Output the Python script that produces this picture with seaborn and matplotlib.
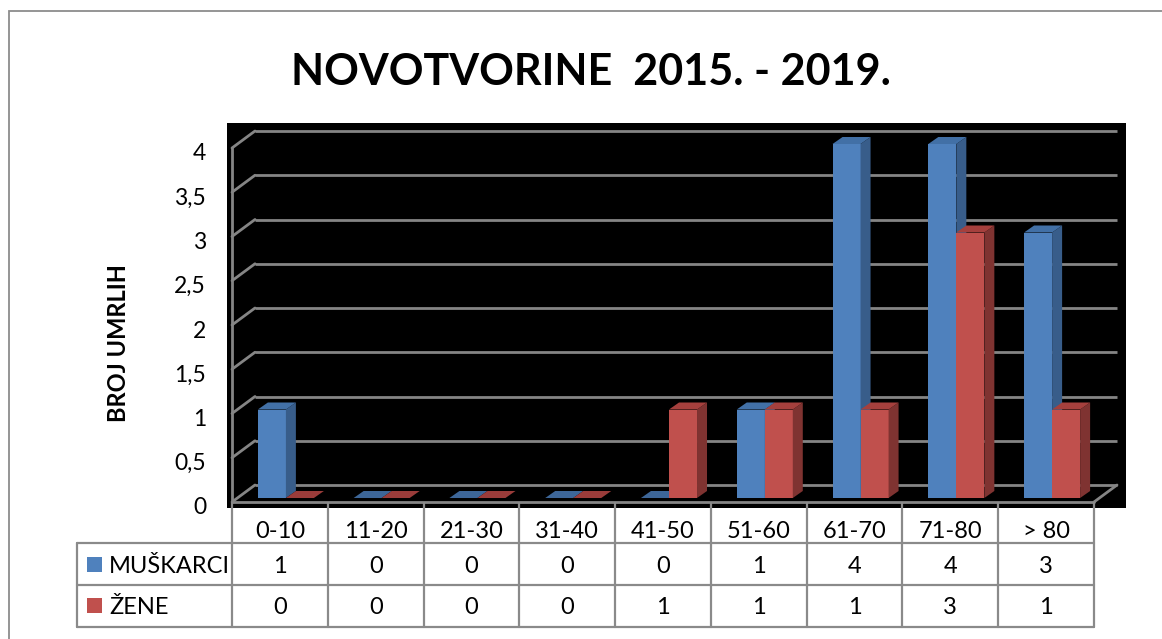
import matplotlib
matplotlib.use("Agg")
import matplotlib.pyplot as plt
from matplotlib.patches import Polygon, Rectangle
from matplotlib.transforms import ScaledTranslation
import seaborn as sns
import pandas as pd

# ---- data ----
categories = ["0-10", "11-20", "21-30", "31-40", "41-50", "51-60", "61-70", "71-80", "> 80"]
muskarci = [1, 0, 0, 0, 0, 1, 4, 4, 3]
zene = [0, 0, 0, 0, 1, 1, 1, 3, 1]
series_names = ["MUŠKARCI", "ŽENE"]
yticks = [0, 0.5, 1, 1.5, 2, 2.5, 3, 3.5, 4]
ytick_labels = ["0", "0,5", "1", "1,5", "2", "2,5", "3", "3,5", "4"]
title = "NOVOTVORINE  2015. - 2019."
ylabel = "BROJ UMRLIH"

# ---- style ----
sns.set_style("white")
plt.rcParams['font.family'] = ['Lato', 'DejaVu Sans']

front_col = ["#4F81BD", "#C0504D"]
side_col = ["#385D8A", "#7F3331"]
top_col = ["#4270A6", "#A5403D"]
zero_col = ["#3D6698", "#9A3C3A"]
grid_col = "#858585"

W, H = 1162, 639
fig = plt.figure(figsize=(W / 100, H / 100), dpi=100)


def fx(px):
    return px / W


def fy(py):
    return 1 - py / H


# outer chart border
fig.patches.append(Rectangle((fx(9), fy(660)), (1180 - 9) / W, (660 - 11) / H,
                             transform=fig.transFigure, facecolor='none',
                             edgecolor='#8c8c8c', linewidth=1.3, zorder=-3))
# black plot area
fig.patches.append(Rectangle((fx(227), fy(508)), (1126 - 227) / W, (508 - 123) / H,
                             transform=fig.transFigure, facecolor='black',
                             edgecolor='none', zorder=-2))

x0, x1 = 232, 1094
yb, yt = 502, 148
ppx = (x1 - x0) / 9.0
ppy = (yb - yt) / 4.0
ax = fig.add_axes([fx(x0), fy(yb), (x1 - x0) / W, (yb - yt) / H])
ax.set_facecolor('none')

df = pd.DataFrame({
    "kategorija": categories * 2,
    "vrijednost": muskarci + zene,
    "spol": [series_names[0]] * len(categories) + [series_names[1]] * len(categories),
})
sns.barplot(data=df, x="kategorija", y="vrijednost", hue="spol",
            palette=front_col, width=0.585, saturation=1, gap=0,
            legend=False, ax=ax, errorbar=None)

DX, DY = 23 / ppx, 17 / ppy          # wall depth
BX, BY = 6 / ppx, 4 / ppy            # bar placement depth
DXb, DYb = 10 / ppx, 7 / ppy         # bar thickness

ax.set_xlim(-0.5, 8.5)
ax.set_ylim(0, 4)

glw = 2.0
# back wall gridlines + left diagonals
for v in yticks:
    ax.plot([-0.5 + DX, 8.5 + DX], [v + DY, v + DY], color=grid_col, lw=glw,
            clip_on=False, zorder=1, solid_capstyle='butt')
    ax.plot([-0.5, -0.5 + DX], [v, v + DY], color=grid_col, lw=glw,
            clip_on=False, zorder=1)
ax.plot([-0.5, -0.5], [0, 4], color=grid_col, lw=glw, clip_on=False, zorder=1)
ax.plot([-0.5, 8.5], [0, 0], color=grid_col, lw=glw, clip_on=False, zorder=6)
ax.plot([8.5, 8.5 + DX], [0, DY], color=grid_col, lw=glw, clip_on=False, zorder=6)

# 3D faces for bars
n = len(categories)
for i, p in enumerate(list(ax.patches)):
    s = i // n
    xl = p.get_x() + BX
    w = p.get_width()
    h = p.get_height()
    p.set_x(xl)
    p.set_y(BY)
    p.set_clip_on(False)
    p.set_edgecolor('none')
    p.set_zorder(2 + s * 2)
    xr = xl + w
    b = BY
    if h > 0:
        ax.add_patch(Polygon([(xr, b), (xr + DXb, b + DYb), (xr + DXb, b + h + DYb), (xr, b + h)],
                             closed=True, facecolor=side_col[s], edgecolor='none',
                             clip_on=False, zorder=2 + s * 2))
        ax.add_patch(Polygon([(xl, b + h), (xl + DXb, b + h + DYb), (xr + DXb, b + h + DYb), (xr, b + h)],
                             closed=True, facecolor=top_col[s], edgecolor='none',
                             clip_on=False, zorder=2.5 + s * 2))
    else:
        ax.add_patch(Polygon([(xl, b), (xl + DXb, b + DYb), (xr + DXb, b + DYb), (xr, b)],
                             closed=True, facecolor=zero_col[s], edgecolor='none',
                             clip_on=False, zorder=2.5 + s * 2))

ax.grid(False)
for sp in ax.spines.values():
    sp.set_visible(False)
ax.set_xticks([])
ax.set_xlabel("")
ax.set_ylabel("")
ax.set_yticks(yticks, ytick_labels)
ax.tick_params(axis='y', length=0, pad=26 * 0.72, labelsize=16.5, labelcolor='black')
for lbl in ax.get_yticklabels():
    lbl.set_transform(lbl.get_transform() + ScaledTranslation(0, -4 / 100, fig.dpi_scale_trans))

# title and axis label
fig.text(fx(591), fy(85), title, ha='center', va='baseline', fontsize=31,
         fontweight='bold', color='black')
fig.text(fx(118), fy(343), ylabel, ha='center', va='center', rotation=90,
         fontsize=17, fontweight='bold', color='black')

# ---- data table ----
tx_left = 77
tax = fig.add_axes([fx(tx_left), fy(627), (x1 - tx_left) / W, (627 - 503) / H])
xL = -0.5 - (x0 - tx_left) / ppx
tax.set_xlim(xL, 8.5)
tax.set_ylim(627, 503)
tax.axis('off')

tcol = "#8a8a8a"
tlw = 1.6
for k in range(n + 1):
    tax.plot([k - 0.5, k - 0.5], [503, 627], color=tcol, lw=tlw, clip_on=False)
tax.plot([xL, xL], [543, 627], color=tcol, lw=tlw, clip_on=False)
for yy in (543, 585, 627):
    tax.plot([xL, 8.5], [yy, yy], color=tcol, lw=tlw, clip_on=False)

tfs = 17
for i, c in enumerate(categories):
    tax.text(i, 538, c, ha='center', va='baseline', fontsize=tfs, color='black')
    tax.text(i, 573, str(muskarci[i]), ha='center', va='baseline', fontsize=tfs, color='black')
    tax.text(i, 614, str(zene[i]), ha='center', va='baseline', fontsize=tfs, color='black')

for s, (name, base, sq_top) in enumerate(zip(series_names, (573, 614), (557, 598))):
    sx = xL + (87 - tx_left) / ppx
    tax.add_patch(Rectangle((sx, sq_top), 15 / ppx, 15, facecolor=front_col[s],
                            edgecolor='none', clip_on=False))
    tax.text(xL + (109 - tx_left) / ppx, base, name, ha='left', va='baseline',
             fontsize=tfs, color='black')

fig.savefig("out.png", dpi=100, facecolor='white')
